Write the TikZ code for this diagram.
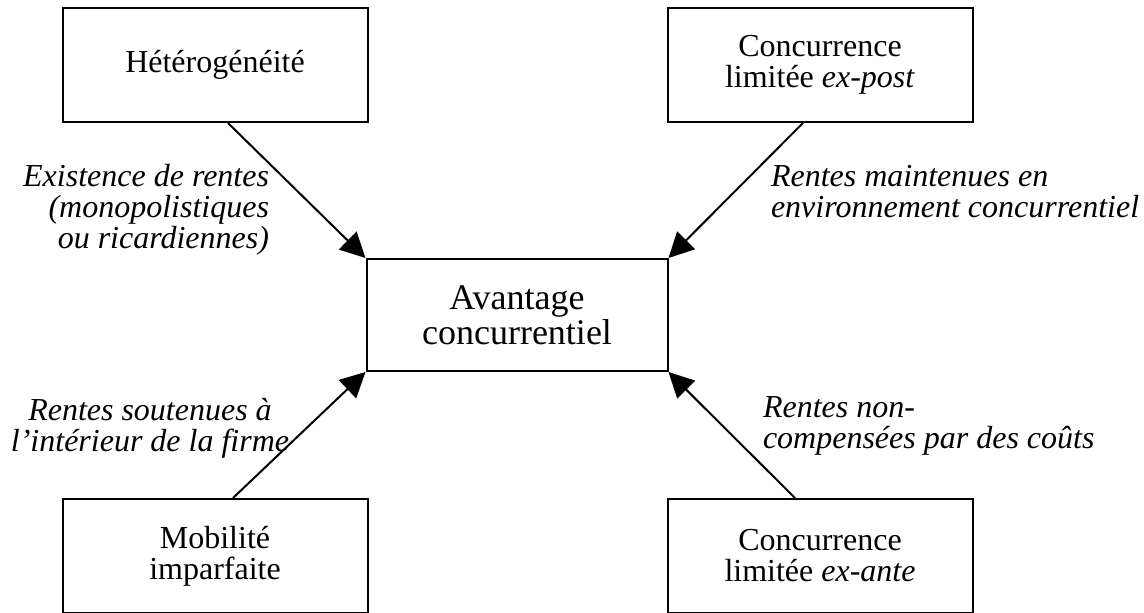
\documentclass[tikz,border=0pt]{standalone}
\usepackage{fontspec}
\setmainfont{Liberation Serif}
\usetikzlibrary{arrows.meta}

\begin{document}
\begin{tikzpicture}[x=0.5pt,y=-0.5pt,line width=1pt,
    every node/.style={inner sep=0pt,font=\fontsize{16}{15.5}\selectfont},
    box/.style={draw,minimum width=152.5pt,minimum height=57pt,align=center},
    lbl/.style={font=\fontsize{16}{15.5}\selectfont\itshape},
    >={Triangle[length=12.5pt,width=12.5pt]}]
  \useasboundingbox(0,0)rectangle(1144,613);
  \node[box](het)at(215,65){Hétérogénéité};
  \node[box](post)at(820,65){Concurrence\\limitée \textit{ex-post}};
  \node[box,minimum width=150.5pt,minimum height=56pt,
    font=\fontsize{18}{16}\selectfont](av)at(517,315){Avantage\\concurrentiel};
  \node[box](mob)at(215,556){Mobilité\\imparfaite};
  \node[box](ante)at(820,556){Concurrence\\limitée \textit{ex-ante}};
  \draw[->]([xshift=6.5pt]het.south)--(av.north west);
  \draw[->]([xshift=-8.5pt]post.south)--(av.north east);
  \draw[->]([xshift=9pt]mob.north)--(av.south west);
  \draw[->]([xshift=-12.5pt]ante.north)--(av.south east);
  \node[lbl,align=right,anchor=north east](rA)at(270,163)
    {Existence de rentes\\(monopolistiques\\ou ricardiennes)};
  \node[lbl,align=left,anchor=north west](rB)at(770,164)
    {Rentes maintenues en\\environnement concurrentiel};
  \node[lbl,align=center,anchor=north](rC)at(150,397)
    {Rentes soutenues à\\l’intérieur de la firme};
  \node[lbl,align=left,anchor=north west](rD)at(762,396)
    {Rentes non-\\compensées par des coûts};
\end{tikzpicture}
\end{document}
